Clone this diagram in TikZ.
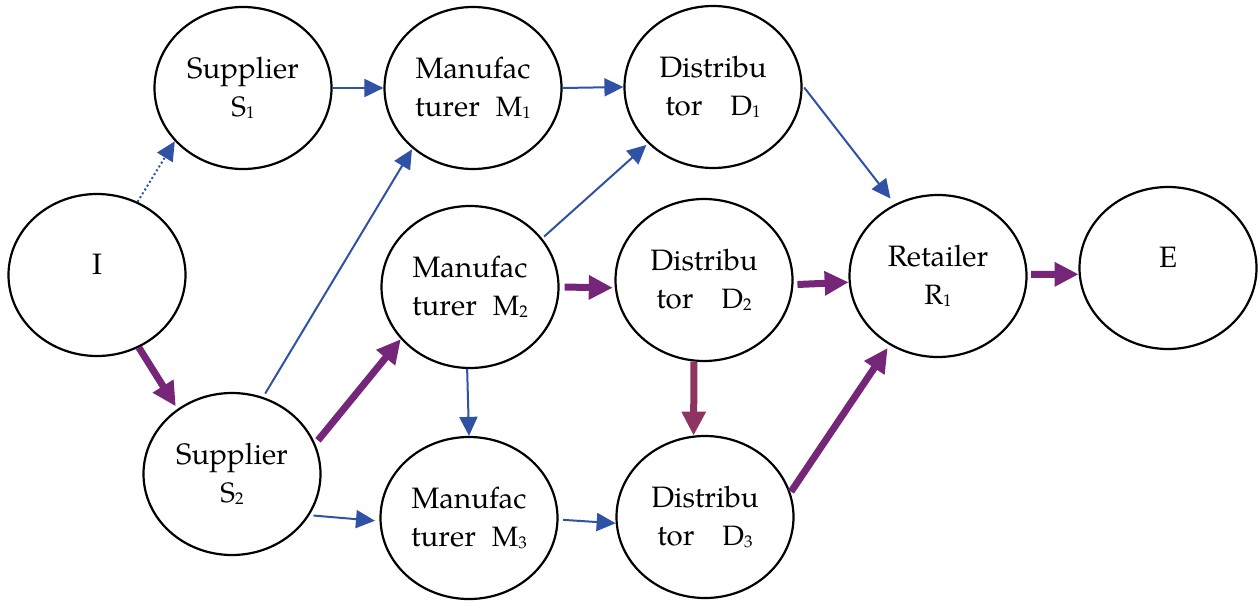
\documentclass[tikz,border=0pt]{standalone}
\usepackage{fontspec}
\setmainfont{TeX Gyre Pagella}
\usetikzlibrary{shapes.geometric,arrows.meta}
\definecolor{eblue}{HTML}{2F52A5}
\definecolor{epurple}{HTML}{762678}
\definecolor{emaroon}{HTML}{8E3461}
\newcommand{\sublab}[2]{{\fontsize{28}{30}\selectfont #1}\raisebox{-1.5pt}{\fontsize{17}{17}\selectfont #2}}
\begin{document}
\begin{tikzpicture}[x=1pt,y=-1pt,
  nd/.style={ellipse,draw=black,line width=2.2pt,minimum width=177pt,minimum height=162pt,inner sep=0pt,align=center,font=\fontsize{29.5}{38}\selectfont},
  bl/.style={draw=eblue,line width=2pt,-{Triangle[length=19pt,width=18pt]}},
  pu/.style={draw=epurple,line width=7pt,-{Triangle[length=24pt,width=23pt]}},
  ma/.style={draw=emaroon,line width=7pt,-{Triangle[length=24pt,width=23pt]}}
]
\useasboundingbox (0,0) rectangle (1260,602);
\node[nd,text depth=22pt] (I) at (97,275) {I};
\node[nd] (S1) at (243,88) {Supplier\\\sublab{S}{1}};
\node[nd] (S2) at (232,474) {Supplier\\\sublab{S}{2}};
\node[nd] (M1) at (473,88) {Manufac\\turer\hspace{16pt}\sublab{M}{1}};
\node[nd] (M2) at (470,287) {Manufac\\turer\hspace{16pt}\sublab{M}{2}};
\node[nd] (M3) at (469,518) {Manufac\\turer\hspace{16pt}\sublab{M}{3}};
\node[nd] (D1) at (713,87) {Distribu\\tor\hspace{28pt}\sublab{D}{1}};
\node[nd] (D2) at (704,280) {Distribu\\tor\hspace{28pt}\sublab{D}{2}};
\node[nd] (D3) at (705,517) {Distribu\\tor\hspace{28pt}\sublab{D}{3}};
\node[nd] (R1) at (938,276) {Retailer\\\sublab{R}{1}};
\node[nd,text depth=21pt] (E) at (1168,268) {E};
% blue connectors
\draw[bl,dash pattern=on 2pt off 2.5pt] (I.61.3) -- (S1.-142.6);
\draw[bl] (S1.0.6) -- (M1.180);
\draw[bl] (M1.0.6) -- (D1.180);
\draw[bl,shorten <=2.5pt,shorten >=7pt] (D1.1.3) -- (R1.121.4);
\draw[bl,shorten <=4pt,shorten >=1pt] (S2.68.8) -- (M1.-135.5);
\draw[bl,shorten <=2.6pt,shorten >=2.2pt] (M2.34.4) -- (D1.-139.2);
\draw[bl] (M2.-92) -- (M3.90);
\draw[bl,shorten <=4pt,shorten >=4.5pt] (S2.-28.3) -- (M3.-178.2);
\draw[bl,shorten <=4.5pt] (M3.-1.8) -- (D3.-176.1);
% purple connectors
\draw[pu,shorten >=3pt] (I.-60.7) -- (S2.130.8);
\draw[pu,shorten <=4.3pt] (S2.20.4) -- (M2.-143.1);
\draw[pu,shorten <=5pt,shorten >=2pt] (M2.0) -- (D2.-175.6);
\draw[pu,shorten <=4pt] (D2.-3.7) -- (R1.-176.1);
\draw[pu,shorten <=3.5pt] (R1.1.9) -- (E.-176.7);
\draw[pu,shorten <=1pt,shorten >=3.5pt] (D3.16.4) -- (R1.-125.2);
\draw[ma] (D2.-97.1) -- (D3.98);
\end{tikzpicture}
\end{document}
